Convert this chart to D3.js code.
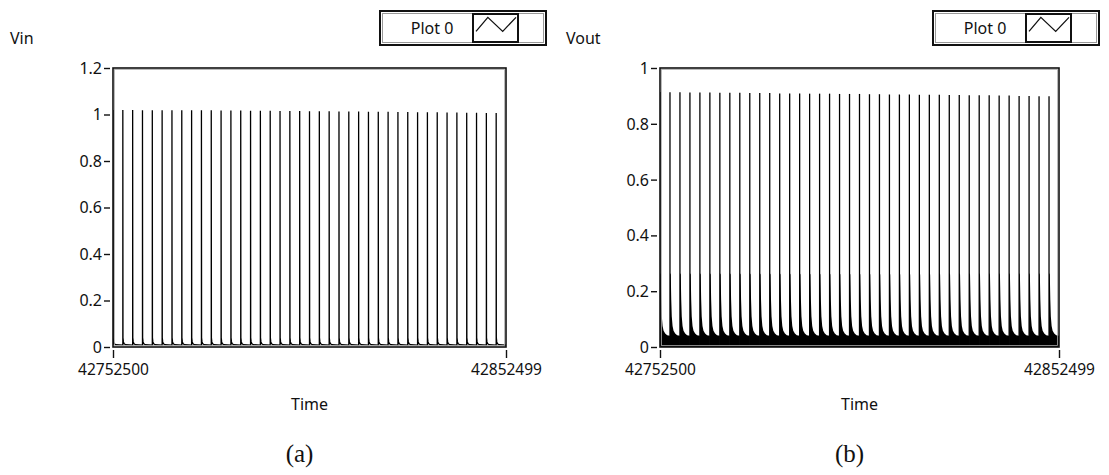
<!DOCTYPE html>
<html><head><meta charset="utf-8">
<script src="https://cdn.jsdelivr.net/npm/d3@7"></script>
<style>
html,body{margin:0;padding:0;background:#fff;}
svg text{font-family:"Noto Sans","Open Sans",sans-serif;fill:#111;}
</style></head>
<body>
<svg id="c" width="1109" height="475"></svg>
<script>
// ---- data ----
const timeDomain = [42752500, 42852499];
const xTickValues = [42752500, 42852499];
const pulseOffsets = [0,2500,5000,7500,10000,12500,15000,17500,20000,22500,25000,27500,30000,32500,35000,37500,40000,42500,45000,47500,50000,52500,55000,57500,60000,62500,65000,67500,70000,72500,75000,77500,80000,82500,85000,87500,90000,92500,95000,97500];
const vinPeaks = [1.017,1.017,1.017,1.016,1.016,1.016,1.016,1.015,1.015,1.015,1.015,1.014,1.014,1.014,1.013,1.013,1.013,1.012,1.012,1.012,1.011,1.011,1.011,1.010,1.010,1.010,1.009,1.009,1.009,1.008,1.008,1.007,1.007,1.007,1.006,1.006,1.005,1.005,1.004,1.004];
const vinTail = [[40,0.04],[150,0.022],[350,0.014],[700,0.01],[2500,0.008]];
const vinYTicks = [0,0.2,0.4,0.6,0.8,1,1.2];
const voutPeaks = [0.914,0.913,0.913,0.912,0.912,0.912,0.911,0.911,0.911,0.910,0.910,0.910,0.909,0.909,0.909,0.908,0.908,0.908,0.907,0.907,0.907,0.906,0.906,0.905,0.905,0.905,0.904,0.904,0.904,0.903,0.903,0.902,0.902,0.902,0.901,0.901,0.900,0.900,0.899,0.899];
const voutSecond = [0.265,0.265,0.265,0.265,0.265,0.265,0.265,0.265,0.265,0.265,0.265,0.265,0.265,0.265,0.265,0.265,0.265,0.265,0.265,0.265,0.265,0.265,0.265,0.265,0.265,0.265,0.265,0.265,0.265,0.265,0.265,0.265,0.265,0.265,0.265,0.265,0.265,0.265,0.265,0.265];
const voutTail = [[200,0.26],[320,0.17],[450,0.11],[650,0.075],[900,0.058],[1300,0.048],[1800,0.042],[2500,0.04]];
const voutYTicks = [0,0.2,0.4,0.6,0.8,1];

// ---- layout ----
const svg = d3.select("#c");
const FS = 16;
const panels = [
  {key:"a", ylab:"Vin", ylabX:10, x0:113, x1:506, y0:68, y1:347, ymax:1.2, ticks:vinYTicks, fmt:d=>d3.format("")(d),
   leg:{x:380,y:11,w:166,h:34}, cap:"(a)"},
  {key:"b", ylab:"Vout", ylabX:566, x0:660, x1:1059, y0:68, y1:347, ymax:1, ticks:voutYTicks, fmt:d=>d3.format("")(d),
   leg:{x:933,y:11,w:166,h:34}, cap:"(b)"}
];

panels.forEach((p,pi)=>{
  const x = d3.scaleLinear().domain(timeDomain).range([p.x0,p.x1]);
  const y = d3.scaleLinear().domain([0,p.ymax]).range([p.y1,p.y0]);
  const g = svg.append("g");
  const clipId = "clip"+p.key;
  svg.append("clipPath").attr("id",clipId).append("rect")
    .attr("x",p.x0).attr("y",p.y0).attr("width",p.x1-p.x0).attr("height",p.y1-p.y0);
  const plot = g.append("g").attr("clip-path",`url(#${clipId})`);

  if(pi===0){
    const pts = [];
    pulseOffsets.forEach((o,i)=>{
      const t = timeDomain[0]+o;
      pts.push([t,0.008]); pts.push([t,vinPeaks[i]]); pts.push([t+1,vinPeaks[i]]);
      vinTail.forEach(([dt,v])=>pts.push([t+dt,v]));
    });
    const line = d3.line().x(d=>x(d[0])).y(d=>y(d[1]));
    plot.append("path").attr("d",line(pts)).attr("fill","none").attr("stroke","#000").attr("stroke-width",1.3);
  } else {
    const area = d3.area().x(d=>x(d[0])).y0(y(0)).y1(d=>y(d[1]));
    const line = d3.line().x(d=>x(d[0])).y(d=>y(d[1]));
    pulseOffsets.forEach((o,i)=>{
      const t = timeDomain[0]+o;
      const a = [[t,0],[t,voutSecond[i]]].concat(voutTail.map(([dt,v])=>[t+dt, v*(voutSecond[i]/0.265)]));
      a.push([t+voutTail[voutTail.length-1][0],0]);
      plot.append("path").attr("d",area(a)).attr("fill","#000");
      plot.append("path").attr("d",line([[t,0],[t,voutPeaks[i]]])).attr("stroke","#000").attr("stroke-width",1.3).attr("fill","none");
    });
  }

  // frame
  g.append("rect").attr("x",p.x0).attr("y",p.y0).attr("width",p.x1-p.x0).attr("height",p.y1-p.y0)
    .attr("fill","none").attr("stroke","#111").attr("stroke-width",1.6);
  g.append("rect").attr("x",p.x0+1.5).attr("y",p.y0+1.5).attr("width",p.x1-p.x0-3).attr("height",p.y1-p.y0-3)
    .attr("fill","none").attr("stroke","#aaa").attr("stroke-width",0.8);

  // y axis
  const ya = d3.axisLeft(y).tickValues(p.ticks).tickFormat(p.fmt).tickSize(6).tickPadding(2);
  const yg = g.append("g").attr("transform",`translate(${p.x0-3},0)`).call(ya);
  yg.select(".domain").remove();
  yg.selectAll(".tick line").attr("stroke","#111").attr("stroke-width",1.4);
  yg.selectAll(".tick text").attr("font-size",FS).attr("dy","0.34em");

  // x axis
  const xa = d3.axisBottom(x).tickValues(xTickValues).tickFormat(d3.format("d")).tickSize(8).tickPadding(6);
  const xg = g.append("g").attr("transform",`translate(0,${p.y1+3})`).call(xa);
  xg.select(".domain").remove();
  xg.selectAll(".tick line").attr("stroke","#111").attr("stroke-width",1.4);
  xg.selectAll(".tick text").attr("font-size",FS-0.5);

  // labels
  g.append("text").attr("x",p.ylabX).attr("y",44).attr("font-size",FS).text(p.ylab);
  g.append("text").attr("x",(p.x0+p.x1)/2).attr("y",410).attr("text-anchor","middle").attr("font-size",FS).text("Time");
  g.append("text").attr("x",(p.x0+p.x1)/2-10).attr("y",462).attr("text-anchor","middle")
    .style("font-family","'Liberation Serif','Times New Roman',serif").attr("font-size",25).text(p.cap);

  // legend
  const L = p.leg;
  const lg = g.append("g");
  lg.append("rect").attr("x",L.x).attr("y",L.y).attr("width",L.w).attr("height",L.h).attr("fill","#fff").attr("stroke","#111").attr("stroke-width",2);
  lg.append("rect").attr("x",L.x+2.5).attr("y",L.y+2.5).attr("width",L.w-5).attr("height",L.h-5).attr("fill","none").attr("stroke","#999").attr("stroke-width",1);
  lg.append("text").attr("x",L.x+52).attr("y",L.y+L.h/2).attr("dy","0.36em").attr("text-anchor","middle").attr("font-size",FS).text("Plot 0");
  const ix = L.x+93, iw = 45, iy = L.y+3, ih = L.h-6;
  lg.append("rect").attr("x",ix).attr("y",iy).attr("width",iw).attr("height",ih).attr("fill","#fff").attr("stroke","#111").attr("stroke-width",2);
  const zig = d3.line()([[ix+3,iy+ih*0.62],[ix+iw*0.33,iy+ih*0.12],[ix+iw*0.66,iy+ih*0.62],[ix+iw-2,iy+ih*0.12]]);
  lg.append("path").attr("d",zig).attr("fill","none").attr("stroke","#111").attr("stroke-width",1.3);
});
</script>
</body></html>
